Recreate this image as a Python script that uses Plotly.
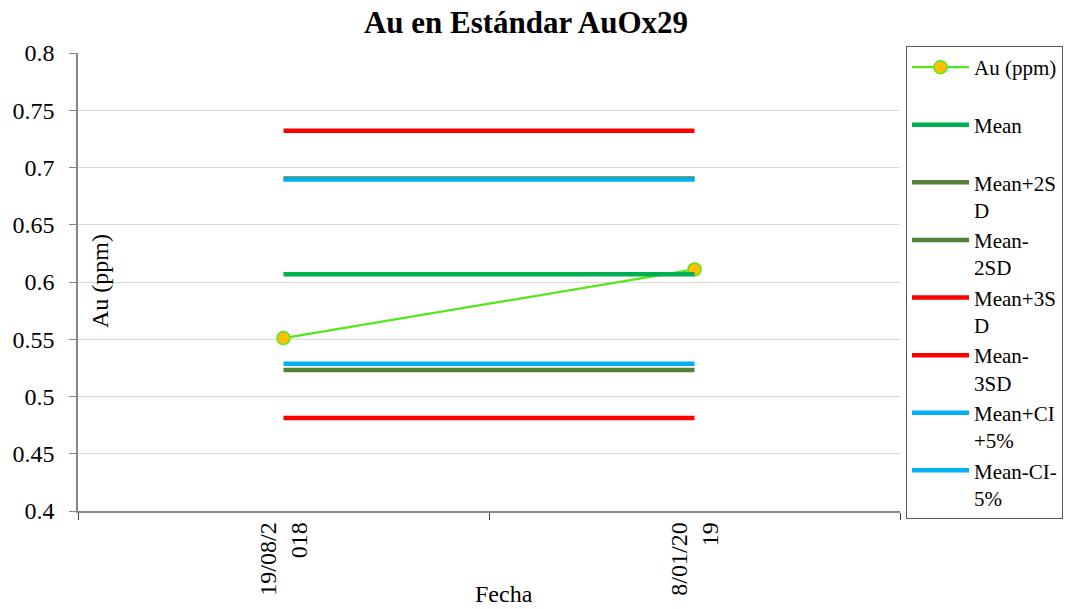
import plotly.graph_objects as go

# Sample dates (category axis) and their wrapped tick labels
fechas = ["19/08/2018", "8/01/2019"]
etiquetas_fecha = ["19/08/2<br>018", "8/01/20<br>19"]

# Measured gold in standard AuOx29
au_ppm = [0.551, 0.611]

# Control limits
mean = 0.6067
mean_plus_2sd = 0.6903
mean_minus_2sd = 0.5231
mean_plus_3sd = 0.7321
mean_minus_3sd = 0.4813
mean_plus_ci = 0.6895
mean_minus_ci = 0.5287

FONT = "Liberation Serif, Times New Roman, serif"

fig = go.Figure()

fig.add_trace(go.Scatter(
    x=fechas, y=au_ppm, mode="lines+markers", name="Au (ppm)<br> ",
    line=dict(color="#55E619", width=2.2),
    marker=dict(size=13, color="#FFC000", line=dict(color="#55E619", width=1.5)),
))

limites = [
    ("Mean<br> ", mean, "#00B050"),
    ("Mean+2S<br>D", mean_plus_2sd, "#538135"),
    ("Mean-<br>2SD", mean_minus_2sd, "#538135"),
    ("Mean+3S<br>D", mean_plus_3sd, "#FF0000"),
    ("Mean-<br>3SD", mean_minus_3sd, "#FF0000"),
    ("Mean+CI<br>+5%", mean_plus_ci, "#00B0F0"),
    ("Mean-CI-<br>5%", mean_minus_ci, "#00B0F0"),
]
for nombre, valor, color in limites:
    fig.add_trace(go.Scatter(
        x=fechas, y=[valor] * len(fechas), mode="lines", name=nombre,
        line=dict(color=color, width=4.5),
    ))

fig.update_layout(
    width=1078, height=609,
    margin=dict(l=78, r=178, t=53, b=98, pad=0),
    paper_bgcolor="white", plot_bgcolor="white",
    font=dict(family=FONT, size=24, color="black"),
    title=dict(
        text="<b>Au en Estándar AuOx29</b>",
        x=526 / 1078, xanchor="center", xref="container",
        y=1 - 22 / 609, yanchor="middle",
        font=dict(family=FONT, size=31, color="black"),
    ),
    showlegend=True,
    legend=dict(
        x=(906 - 78) / 822, xanchor="left",
        y=(511 - 46) / 458, yanchor="top",
        bordercolor="#595959", borderwidth=1,
        bgcolor="white",
        font=dict(family=FONT, size=21, color="black"),
        valign="top", tracegroupgap=0,
        itemwidth=57, maxheight=580,
    ),
    xaxis=dict(
        type="category",
        range=[-0.5, 1.5],
        tickmode="array", tickvals=fechas, ticktext=etiquetas_fecha,
        tickson="boundaries",
        ticks="outside", ticklen=7, tickcolor="#3f3f3f",
        tickangle=-90,
        showline=True, linecolor="#868686", linewidth=1.5,
        showgrid=False, zeroline=False,
        tickfont=dict(family=FONT, size=24, color="black"),
    ),
    yaxis=dict(
        range=[0.4, 0.8], dtick=0.05, tick0=0.4,
        ticks="outside", ticklen=7, tickcolor="#868686",
        showline=True, linecolor="#868686", linewidth=1.5,
        showgrid=True, gridcolor="#d9d9d9", gridwidth=1,
        zeroline=False,
        ticklabelstandoff=10,
        tickfont=dict(family=FONT, size=24, color="black"),
    ),
    annotations=[
        dict(text="Au (ppm)", x=(100 - 78) / 822, y=(511 - 281) / 458,
             xref="paper", yref="paper", showarrow=False, textangle=-90,
             xanchor="center", yanchor="middle",
             font=dict(family=FONT, size=24, color="black")),
        dict(text="Fecha", x=(504 - 78) / 822, y=-(608 - 511) / 458,
             xref="paper", yref="paper", showarrow=False,
             xanchor="center", yanchor="bottom", borderpad=0,
             font=dict(family=FONT, size=24, color="black")),
    ],
)

fig.write_html("out.html")
